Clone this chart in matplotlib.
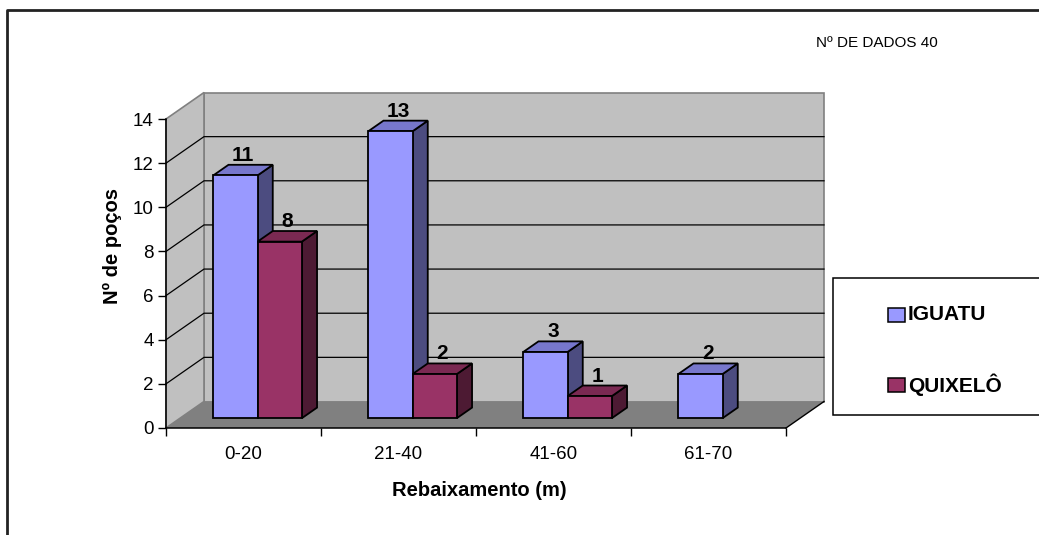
import matplotlib
matplotlib.use("Agg")
import matplotlib.pyplot as plt
from matplotlib.patches import Polygon, Rectangle
from matplotlib.lines import Line2D

plt.rcParams['font.family'] = ['Liberation Sans', 'DejaVu Sans']

# ---- data ----
categories = ['0-20', '21-40', '41-60', '61-70']
iguatu = [11, 13, 3, 2]
quixelo = [8, 2, 1, None]
series_names = ['IGUATU', 'QUIXELÔ']
y_ticks = [0, 2, 4, 6, 8, 10, 12, 14]
note = 'Nº DE DADOS 40'
x_title = 'Rebaixamento (m)'
y_title = 'Nº de poços'

# ---- styling ----
front_cols = ['#9999FF', '#993366']
top_cols = ['#7777CC', '#7A2952']
side_cols = ['#4C4C80', '#4D1A33']
WALL = '#C0C0C0'
WALL_EDGE = '#808080'
FLOOR = '#808080'

W, H = 1039, 535
fig = plt.figure(figsize=(W / 100, H / 100), dpi=100)


def fx(px):
    return px / W


def fy(py):
    return 1 - py / H


# front plane of the 3-D box
ax = fig.add_axes([fx(166), fy(428), (786 - 166) / W, (428 - 119) / H])
ncat = len(categories)
ymax = y_ticks[-1]
ax.set_xlim(0, ncat)
ax.set_ylim(0, ymax)
ax.patch.set_visible(False)

# depth offset of the box (data units)
DX = 38 / 155
DY = 26.5 / (309 / ymax)

# walls and floor
ax.add_patch(Polygon([(DX, DY), (ncat + DX, DY), (ncat + DX, ymax + DY), (DX, ymax + DY)],
                     closed=True, fc=WALL, ec=WALL_EDGE, lw=1.2, clip_on=False, zorder=0))
ax.add_patch(Polygon([(0, 0), (DX, DY), (DX, ymax + DY), (0, ymax)],
                     closed=True, fc=WALL, ec=WALL_EDGE, lw=1.2, clip_on=False, zorder=0))
for v in y_ticks[1:-1]:
    ax.plot([0, DX, ncat + DX], [v, v + DY, v + DY], color='black', lw=0.9,
            clip_on=False, zorder=0.5)
ax.add_patch(Polygon([(0, 0), (ncat, 0), (ncat + DX, DY), (DX, DY)],
                     closed=True, fc=FLOOR, ec='none', clip_on=False, zorder=1))
ax.plot([ncat, ncat + DX], [0, DY], color='black', lw=1, clip_on=False, zorder=1.5)

# 3-D columns
bw = 1 / 3.5
f0, f1 = 0.37, 0.77


def draw_column(x0, v, s):
    ox0, oy0 = f0 * DX, f0 * DY
    ox1, oy1 = f1 * DX, f1 * DY
    front = [(x0 + ox0, oy0), (x0 + bw + ox0, oy0), (x0 + bw + ox0, v + oy0), (x0 + ox0, v + oy0)]
    top = [(x0 + ox0, v + oy0), (x0 + bw + ox0, v + oy0), (x0 + bw + ox1, v + oy1), (x0 + ox1, v + oy1)]
    side = [(x0 + bw + ox0, oy0), (x0 + bw + ox1, oy1), (x0 + bw + ox1, v + oy1), (x0 + bw + ox0, v + oy0)]
    for pts, c in ((side, side_cols[s]), (top, top_cols[s]), (front, front_cols[s])):
        ax.add_patch(Polygon(pts, closed=True, fc=c, ec='black', lw=1.3,
                             joinstyle='miter', clip_on=False, zorder=2))
    ax.annotate(str(v), xy=(x0 + bw / 2 + (f0 + f1) / 2 * DX, v + f1 * DY),
                xytext=(0, 0), textcoords='offset points', ha='center', va='bottom',
                fontsize=15, fontweight='bold', zorder=3, annotation_clip=False)


for i in range(ncat):
    for s, series in enumerate((iguatu, quixelo)):
        v = series[i]
        if v is None:
            continue
        draw_column(i + 0.5 - bw + s * bw, v, s)

# axes, ticks
for side in ('top', 'right'):
    ax.spines[side].set_visible(False)
for side in ('left', 'bottom'):
    ax.spines[side].set_color('black')
    ax.spines[side].set_linewidth(1.1)
    ax.spines[side].set_zorder(4)

ax.set_yticks(y_ticks)
ax.tick_params(axis='y', direction='out', length=6, width=1, labelsize=13.5, pad=3)
ax.set_xticks(range(ncat + 1))
ax.set_xticklabels([])
ax.set_xticks([i + 0.5 for i in range(ncat)], minor=True)
ax.set_xticklabels(categories, minor=True)
ax.tick_params(axis='x', which='major', direction='out', length=6, width=1)
ax.tick_params(axis='x', which='minor', length=0, labelsize=13.5, pad=13)

ax.set_ylabel(y_title, fontsize=14.5, fontweight='bold')
ax.yaxis.set_label_coords((112 - 166) / 620, (428 - 246) / 309)
ax.yaxis.label.set_va('center')
ax.set_xlabel(x_title, fontsize=14.5, fontweight='bold')
ax.xaxis.set_label_coords((479 - 166) / 620, (428 - 491) / 309)
ax.xaxis.label.set_va('center')

# note
fig.text(fx(816), fy(43), note, fontsize=11, va='center', ha='left')

# legend
fig.add_artist(Rectangle((fx(833), fy(415)), fx(1045) - fx(833), fy(278) - fy(415),
                         transform=fig.transFigure, fc='white', ec='black', lw=1.1))
for s, (name, ycen) in enumerate(zip(series_names, (314.5, 384.5))):
    fig.add_artist(Rectangle((fx(888), fy(ycen + 7)), fx(905) - fx(888), fy(ycen - 7) - fy(ycen + 7),
                             transform=fig.transFigure, fc=front_cols[s], ec='black', lw=1.1))
    fig.text(fx(908), fy(ycen), name, fontsize=15, fontweight='bold', va='center', ha='left')

# chart area border
fig.add_artist(Line2D([fx(7), fx(7), fx(1045)], [fy(545), fy(10), fy(10)],
                      transform=fig.transFigure, color='#222222', lw=2))

fig.savefig('out.png', dpi=100)
